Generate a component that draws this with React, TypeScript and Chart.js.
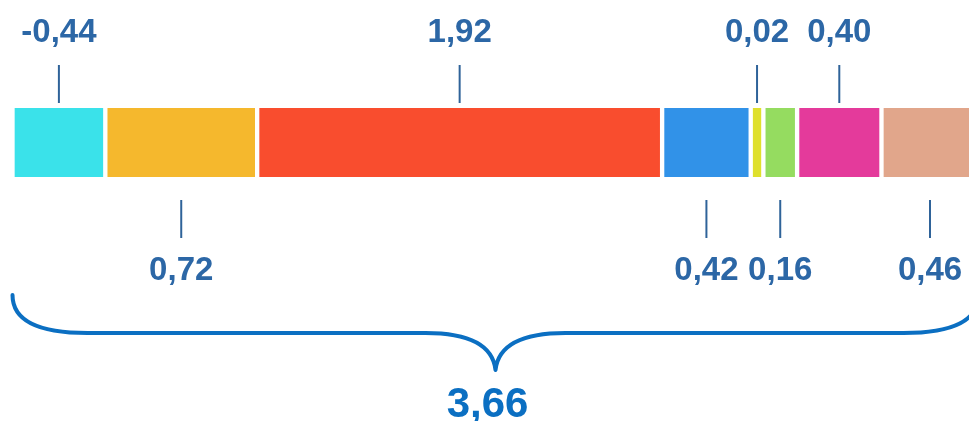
import React, { useEffect, useRef } from "react";
import { Chart, registerables } from "chart.js";

Chart.register(...registerables);

// Printed values of each slice (left to right)
const VALUES = [-0.44, 0.72, 1.92, 0.42, 0.02, 0.16, 0.4, 0.46];
// Drawn slice lengths (the 0,02 slice is drawn wider than its value)
const LENGTHS = [0.44, 0.72, 1.92, 0.42, 0.06, 0.16, 0.4, 0.46];
const COLORS = [
  "#3ae2ea",
  "#f5b82d",
  "#f94d2e",
  "#3192e8",
  "#dfe02c",
  "#95dc60",
  "#e43a9b",
  "#e1a68b",
];
const CATEGORIES = ["Total"];

const fmt = (v: number) => v.toFixed(2).replace(".", ",");

const LABEL_COLOR = "#2c67a6";
const TICK_COLOR = "#2f6399";
const BRACE_COLOR = "#0b6fc2";
const FONT = '"Liberation Sans", Arial, sans-serif';

const annotations = {
  id: "annotations",
  afterDraw(chart: any) {
    const ctx = chart.ctx;
    const xScale = chart.scales.x;
    ctx.save();
    let cum = 0;
    LENGTHS.forEach((len, i) => {
      const start = cum;
      cum += len;
      const cx = xScale.getPixelForValue(start + len / 2);
      const top = i % 2 === 0;
      ctx.strokeStyle = TICK_COLOR;
      ctx.lineWidth = 2;
      ctx.beginPath();
      if (top) {
        ctx.moveTo(cx, 65);
        ctx.lineTo(cx, 103);
      } else {
        ctx.moveTo(cx, 200);
        ctx.lineTo(cx, 238);
      }
      ctx.stroke();
      ctx.fillStyle = LABEL_COLOR;
      ctx.font = `bold 33px ${FONT}`;
      ctx.textAlign = "center";
      ctx.textBaseline = "alphabetic";
      ctx.fillText(fmt(VALUES[i]), cx, top ? 42 : 280);
    });

    // brace
    const x0 = xScale.getPixelForValue(0);
    const x1 = xScale.getPixelForValue(cum);
    const mid = (x0 + x1) / 2;
    const yTop = 295;
    const yLine = 333;
    const yTip = 370;
    ctx.strokeStyle = BRACE_COLOR;
    ctx.lineWidth = 4;
    ctx.lineCap = "round";
    ctx.lineJoin = "round";
    ctx.beginPath();
    ctx.moveTo(x0, yTop);
    ctx.bezierCurveTo(x0, yLine - 12, x0 + 25, yLine, x0 + 75, yLine);
    ctx.lineTo(mid - 70, yLine);
    ctx.bezierCurveTo(mid - 30, yLine, mid - 3, yLine + 10, mid, yTip);
    ctx.bezierCurveTo(mid + 3, yLine + 10, mid + 30, yLine, mid + 70, yLine);
    ctx.lineTo(x1 - 75, yLine);
    ctx.bezierCurveTo(x1 - 25, yLine, x1, yLine - 12, x1, yTop);
    ctx.stroke();

    const total = VALUES.reduce((a, b) => a + b, 0);
    ctx.fillStyle = BRACE_COLOR;
    ctx.font = `bold 42px ${FONT}`;
    ctx.textAlign = "center";
    ctx.textBaseline = "alphabetic";
    ctx.fillText(fmt(total), mid - 8, 417);
    ctx.restore();
  },
};

export default function App() {
  const canvasRef = useRef<HTMLCanvasElement | null>(null);

  useEffect(() => {
    if (!canvasRef.current) return;
    const totalLen = LENGTHS.reduce((a, b) => a + b, 0);
    const chart = new Chart(canvasRef.current, {
      type: "bar",
      data: {
        labels: CATEGORIES,
        datasets: LENGTHS.map((len, i) => ({
          label: fmt(VALUES[i]),
          data: [len],
          backgroundColor: COLORS[i],
          borderColor: "#ffffff",
          borderWidth: { left: 2.5, right: 2.5, top: 0, bottom: 0 },
          borderSkipped: false,
          barPercentage: 1,
          categoryPercentage: 1,
        })),
      },
      options: {
        indexAxis: "y",
        animation: false,
        responsive: true,
        maintainAspectRatio: false,
        layout: { padding: { left: 12.5, right: 11.5, top: 108, bottom: 244 } },
        scales: {
          x: { stacked: true, min: 0, max: totalLen, display: false },
          y: { stacked: true, display: false },
        },
        plugins: {
          legend: { display: false },
          tooltip: { enabled: false },
        },
      },
      plugins: [annotations],
    } as any);
    return () => chart.destroy();
  }, []);

  return (
    <div
      style={{
        position: "fixed",
        left: 0,
        top: 0,
        width: 969,
        height: 421,
        overflow: "hidden",
        background: "#ffffff",
      }}
    >
      <div style={{ position: "relative", width: 990, height: 421 }}>
        <canvas ref={canvasRef} />
      </div>
    </div>
  );
}
